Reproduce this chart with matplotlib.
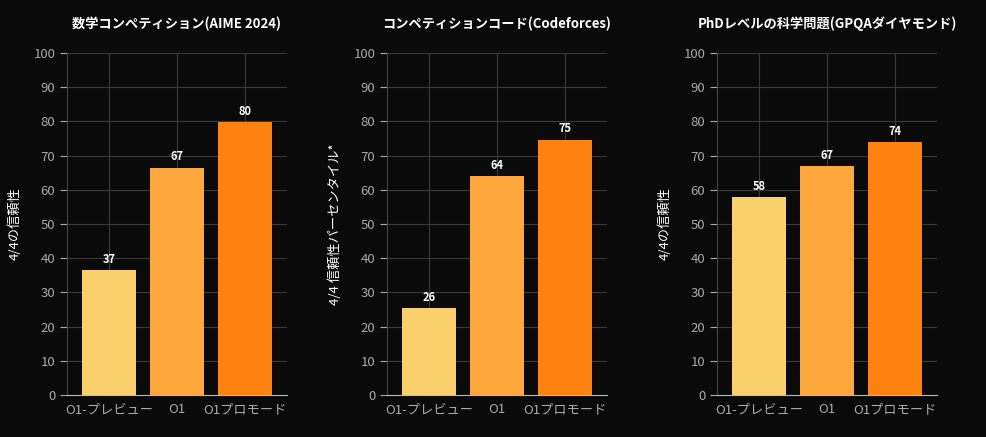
import matplotlib
matplotlib.use("Agg")
import matplotlib.pyplot as plt

plt.rcParams["font.family"] = ["Noto Sans CJK JP"]

categories = ["O1-プレビュー", "O1", "O1プロモード"]
titles = ["数学コンペティション(AIME 2024)", "コンペティションコード(Codeforces)", "PhDレベルの科学問題(GPQAダイヤモンド)"]
ylabels = ["4/4の信頼性", "4/4 信頼性パーセンタイル*", "4/4の信頼性"]
values = [[37, 67, 80], [26, 64, 75], [58, 67, 74]]
bar_heights = [[36.5, 66.5, 79.8], [25.5, 64, 74.7], [58, 67, 74]]
colors = ["#f9cf6b", "#fda73d", "#fe8210"]
yticks = list(range(0, 101, 10))

bg = "#0a0a0a"
fig = plt.figure(figsize=(9.86, 4.37), dpi=100, facecolor=bg)
lefts = [67, 387, 717]
for i in range(3):
    ax = fig.add_axes([lefts[i] / 986, 1 - 395 / 437, 220 / 986, 342 / 437], facecolor=bg)
    x = range(len(categories))
    bars = ax.bar(x, bar_heights[i], width=0.79, color=colors, zorder=3)
    for xi, h, v in zip(x, bar_heights[i], values[i]):
        ax.text(xi, h + 1.2, str(v), ha="center", va="bottom", color="white",
                fontsize=8, fontweight="bold", zorder=4)
    ax.set_xlim(-0.62, 2.62)
    ax.set_ylim(0, 100)
    ax.set_yticks(yticks)
    ax.set_xticks(list(x))
    ax.set_xticklabels(categories)
    ax.grid(True, color="#3a3a3a", linewidth=0.8, zorder=0)
    ax.tick_params(colors="#aaaaaa", labelsize=9.5, length=5)
    ax.tick_params(axis="x", length=0, pad=6)
    for s in ["top", "right"]:
        ax.spines[s].set_visible(False)
    ax.spines["left"].set_color("#444444")
    ax.spines["bottom"].set_color("#bbbbbb")
    ax.set_ylabel(ylabels[i], color="white", fontsize=9.5, labelpad=8)
    ax.set_title(titles[i], color="white", fontsize=9.5, fontweight="bold", pad=18)

fig.savefig("out.png", dpi=100, facecolor=bg)
